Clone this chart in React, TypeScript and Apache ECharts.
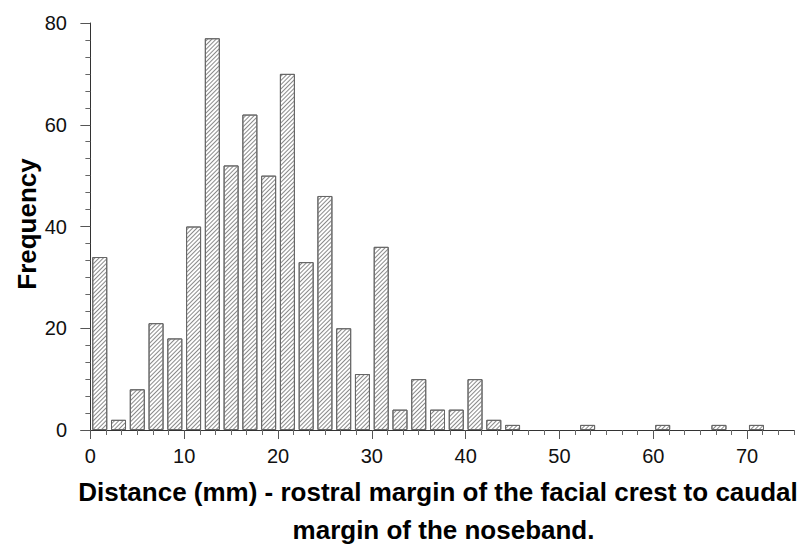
import React, { useEffect, useRef } from "react";
import * as echarts from "echarts";

const binCenters = [1, 3, 5, 7, 9, 11, 13, 15, 17, 19, 21, 23, 25, 27, 29, 31, 33, 35, 37, 39, 41, 43, 45, 47, 49, 51, 53, 55, 57, 59, 61, 63, 65, 67, 69, 71];
const frequencies = [34, 2, 8, 21, 18, 40, 77, 52, 62, 50, 70, 33, 46, 20, 11, 36, 4, 10, 4, 4, 10, 2, 1, 0, 0, 0, 1, 0, 0, 0, 1, 0, 0, 1, 0, 1];
const xMajorTicks = [0, 10, 20, 30, 40, 50, 60, 70];
const yTicks = [0, 20, 40, 60, 80];
const yTitle = "Frequency";
const xTitleLine1 = "Distance (mm) - rostral margin of the facial crest to caudal";
const xTitleLine2 = "margin of the noseband.";

export default function App() {
  const ref = useRef<HTMLDivElement>(null);
  useEffect(() => {
    if (!ref.current) return;
    const chart = echarts.init(ref.current, null, { renderer: "svg" });
    const minorTicks: number[] = [];
    for (let i = 0; i <= 45; i++) {
      const v = Math.round((i * 10) / 6 * 1000) / 1000;
      if (i % 6 !== 0 && v <= 75) minorTicks.push(v);
    }
    const data = binCenters
      .map((c, i) => [c, frequencies[i]])
      .filter((d) => d[1] > 0);
    const font = "'Liberation Sans', Arial, sans-serif";
    chart.setOption({
      animation: false,
      backgroundColor: "#ffffff",
      aria: { enabled: true, decal: { show: true } },
      grid: { left: 81, right: 15, top: 23, bottom: 114, containLabel: false },
      xAxis: [
        {
          type: "value",
          min: -1,
          max: 75,
          splitNumber: 8,
          splitLine: { show: false },
          axisLine: { show: true, lineStyle: { color: "#333", width: 1 } },
          axisTick: { show: true, length: 9, customValues: xMajorTicks, lineStyle: { color: "#555" } },
          axisLabel: {
            customValues: xMajorTicks,
            fontFamily: font,
            fontSize: 20,
            color: "#111",
            margin: 16,
          },
        },
        {
          type: "value",
          min: -1,
          max: 75,
          position: "bottom",
          splitLine: { show: false },
          axisLine: { show: false },
          axisTick: { show: true, length: 5, customValues: minorTicks, lineStyle: { color: "#666" } },
          axisLabel: { show: false },
        },
      ],
      yAxis: {
        type: "value",
        min: 0,
        max: 80,
        interval: 20,
        splitLine: { show: false },
        axisLine: { show: true, lineStyle: { color: "#333", width: 1 } },
        axisTick: { show: true, length: 10, lineStyle: { color: "#555" } },
        minorTick: { show: true, splitNumber: 6, length: 5, lineStyle: { color: "#666" } },
        axisLabel: {
          fontFamily: font,
          fontSize: 20,
          color: "#111",
          margin: 14,
          formatter: (v: number) => (yTicks.includes(v) ? String(v) : ""),
        },
      },
      series: [
        {
          type: "bar",
          xAxisIndex: 0,
          barWidth: 15,
          data,
          itemStyle: {
            color: "#ffffff",
            borderColor: "#666",
            borderWidth: 1,
            decal: {
              symbol: "rect",
              symbolSize: 1,
              color: "#8a8a8a",
              backgroundColor: "#ffffff",
              dashArrayX: [1, 0],
              dashArrayY: [1, 1.4],
              rotation: -Math.PI / 4,
            },
          },
        },
      ],
      graphic: [
        {
          type: "text",
          x: 27,
          y: 224,
          rotation: Math.PI / 2,
          style: {
            text: yTitle,
            fontFamily: font,
            fontSize: 26,
            fontWeight: "bold",
            fill: "#000",
            align: "center",
            verticalAlign: "middle",
          },
        },
        {
          type: "text",
          x: 438,
          y: 492,
          style: {
            text: xTitleLine1,
            fontFamily: font,
            fontSize: 26,
            fontWeight: "bold",
            fill: "#000",
            align: "center",
            verticalAlign: "middle",
          },
        },
        {
          type: "text",
          x: 443.5,
          y: 530,
          style: {
            text: xTitleLine2,
            fontFamily: font,
            fontSize: 26,
            fontWeight: "bold",
            fill: "#000",
            align: "center",
            verticalAlign: "middle",
          },
        },
      ],
    });
    return () => chart.dispose();
  }, []);
  return <div ref={ref} style={{ width: 809, height: 544, position: "absolute", left: 0, top: 0 }} />;
}
